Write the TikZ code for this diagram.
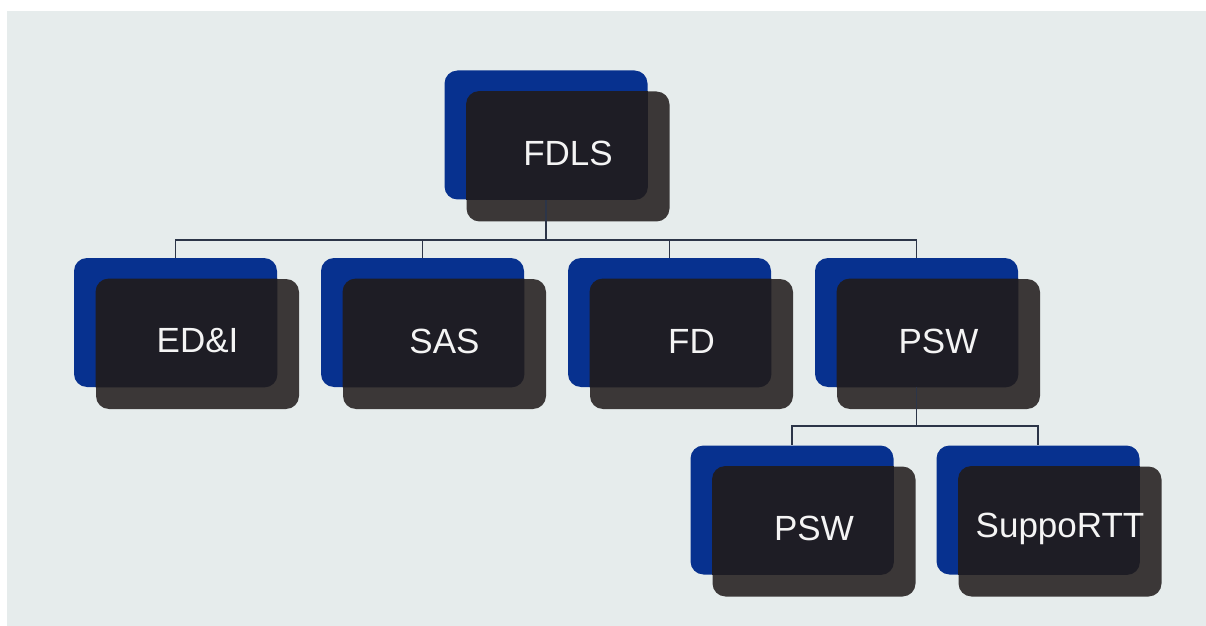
\documentclass[tikz,border=0pt]{standalone}
\usepackage{fontspec}
\setmainfont{Liberation Sans}
\definecolor{bgc}{HTML}{E6ECEC}
\definecolor{blueb}{HTML}{07318F}
\definecolor{brownb}{HTML}{3B3737}
\definecolor{overb}{HTML}{1E1D25}
\definecolor{linec}{HTML}{2C3548}
\definecolor{txtc}{HTML}{F4F4F4}
\tikzset{
  bluebox/.style={fill=blueb, draw=none, rounded corners=6.5pt, minimum width=101.5pt, minimum height=64.5pt, inner sep=0pt},
  brownbox/.style={fill=brownb, draw=none, rounded corners=6.5pt, minimum width=101.5pt, minimum height=65pt, inner sep=0pt},
  boxtext/.style={text=txtc, font=\fontsize{17.5}{20}\selectfont, inner sep=0pt},
  conn/.style={draw=linec, line width=0.7pt}
}
\newcommand{\orgbox}[4]{%
  \node[bluebox] (#1blue) at (#2,#3) {};
  \node[brownbox] (#1) at ([shift={(22,21.5)}]#1blue.center) {};
  \begin{scope}
    \clip[rounded corners=6.5pt] (#1blue.north west) rectangle (#1blue.south east);
    \fill[overb, rounded corners=6.5pt] (#1.north west) rectangle (#1.south east);
  \end{scope}
  \node[boxtext] (#1t) at ([shift={(0,-3)}]#1.center) {#4};
}
\begin{document}
\begin{tikzpicture}[x=0.5pt, y=-0.5pt]
  \useasboundingbox (0,0) rectangle (1206,626);
  \fill[white] (0,0) rectangle (1206,626);
  \fill[bgc] (7,11) rectangle (1206,626);
  \orgbox{fdls}{546}{135}{FDLS}
  \orgbox{edi}{175.5}{322.5}{ED\&I}
  \orgbox{sas}{422.5}{322.5}{SAS}
  \orgbox{fd}{669.5}{322.5}{FD}
  \orgbox{psw}{916.5}{322.5}{PSW}
  \orgbox{pswtwo}{792}{510}{PSW}
  \orgbox{supp}{1038}{510}{SuppoRTT}
  \coordinate (bus1) at (0,240);
  \coordinate (bus2) at (0,426);
  \draw[conn] (fdlsblue.south) -- (fdlsblue.south |- bus1) -| (ediblue.north);
  \draw[conn] (fdlsblue.south) -- (fdlsblue.south |- bus1) -| (sasblue.north);
  \draw[conn] (fdlsblue.south) -- (fdlsblue.south |- bus1) -| (fdblue.north);
  \draw[conn] (fdlsblue.south) -- (fdlsblue.south |- bus1) -| (pswblue.north);
  \draw[conn] (pswblue.south) -- (pswblue.south |- bus2) -| (pswtwoblue.north);
  \draw[conn] (pswblue.south) -- (pswblue.south |- bus2) -| (suppblue.north);
\end{tikzpicture}
\end{document}
